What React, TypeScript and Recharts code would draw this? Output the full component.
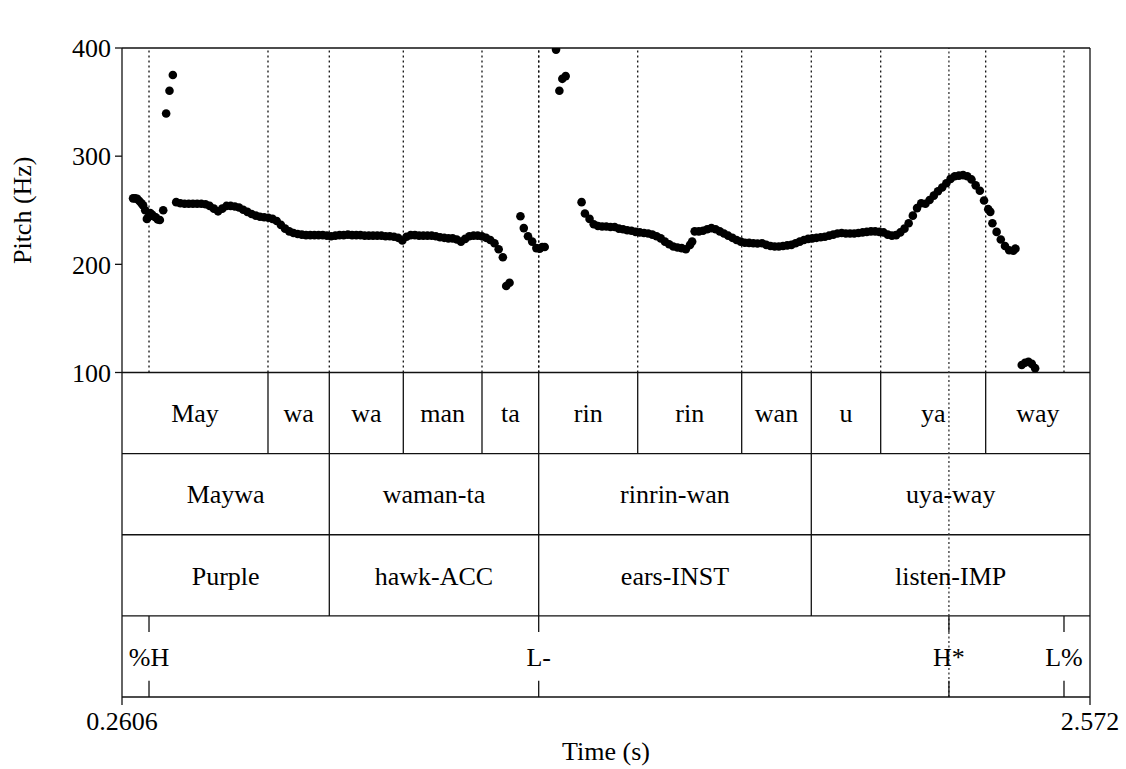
import {
  ReferenceArea,
  ReferenceDot,
  ReferenceLine,
  Scatter,
  ScatterChart,
  XAxis,
  YAxis,
} from 'recharts';

const SERIF = 'Liberation Serif, Times New Roman, Times, DejaVu Serif, serif';
const INK = '#111';

const timeRange: [number, number] = [0.2606, 2.572];
const cursorTime = 2.2351254;
const pitchTicks = [100, 200, 300, 400];

// F0 track, one list per voiced stretch: [time (s), pitch (Hz)]
const runOnset: [number, number][] = [
  [0.287, 261], [0.292, 261], [0.297, 260.5], [0.302, 258.5], [0.307, 256.5],
  [0.311, 254.5], [0.316, 250], [0.320, 242], [0.324, 244], [0.328, 247.5],
  [0.332, 246], [0.336, 244.5], [0.341, 243.5], [0.346, 241.5], [0.351, 241],
  [0.359, 250],
];
const runOctaveA: [number, number][] = [[0.366, 339.5], [0.374, 360.5], [0.382, 375]];
const runMaywaman: [number, number][] = [
  [0.39, 257.5], [0.40, 256.5], [0.41, 256], [0.42, 256], [0.43, 256], [0.44, 256],
  [0.45, 256], [0.46, 255.5], [0.47, 254], [0.48, 251.5], [0.49, 249], [0.50, 251.5],
  [0.51, 254], [0.52, 254], [0.53, 253.5], [0.54, 252.5], [0.55, 250.5], [0.56, 248.5],
  [0.57, 246.5], [0.58, 245], [0.59, 244], [0.60, 243.5], [0.61, 243], [0.62, 242],
  [0.63, 240], [0.64, 236.5], [0.65, 233], [0.66, 230.5], [0.67, 229], [0.68, 228],
  [0.69, 227.5], [0.70, 227], [0.71, 227], [0.72, 227], [0.73, 227], [0.74, 227],
  [0.75, 226.5], [0.76, 226], [0.77, 226.5], [0.78, 227], [0.79, 227], [0.80, 227.5],
  [0.81, 227], [0.82, 227], [0.83, 227], [0.84, 226.5], [0.85, 226.5], [0.86, 226.5],
  [0.87, 226.5], [0.88, 226.5], [0.89, 226], [0.90, 226], [0.91, 225.5], [0.92, 224.5],
  [0.93, 222], [0.94, 225.5], [0.95, 227], [0.96, 227], [0.97, 226.5], [0.98, 226.5],
  [0.99, 226.5], [1.00, 226.5], [1.01, 226], [1.02, 225], [1.03, 224.5], [1.04, 224],
  [1.05, 224], [1.06, 223], [1.07, 221], [1.08, 223.5], [1.09, 226], [1.10, 226.5],
  [1.11, 226.5], [1.12, 226], [1.13, 224.5], [1.14, 222.5], [1.15, 219.5], [1.16, 214],
  [1.17, 206.5],
];
const runTaDip: [number, number][] = [[1.178, 180], [1.186, 183]];
const runTaEnd: [number, number][] = [
  [1.212, 244.5], [1.220, 233.5], [1.230, 226], [1.240, 221], [1.250, 215],
  [1.258, 214.5], [1.264, 216], [1.270, 216],
];
const runOctaveB: [number, number][] = [[1.297, 398.5], [1.305, 360.5], [1.312, 371.5], [1.320, 374]];
const runRin: [number, number][] = [
  [1.358, 257.5], [1.366, 247], [1.377, 242], [1.387, 237], [1.397, 235.5], [1.407, 235],
  [1.417, 235], [1.427, 234.5], [1.437, 234.5], [1.447, 233], [1.457, 232.5], [1.467, 231.5],
  [1.477, 231], [1.487, 230], [1.497, 229.5], [1.507, 229], [1.517, 228.5], [1.527, 227.5],
  [1.537, 226], [1.547, 224], [1.557, 221], [1.567, 218.5], [1.577, 216.5], [1.587, 215.5],
  [1.597, 215], [1.607, 214], [1.617, 218], [1.622, 221],
];
const runRinwanUya: [number, number][] = [
  [1.628, 230.5], [1.638, 230.5], [1.648, 231], [1.658, 232.5], [1.668, 233.5], [1.678, 232.5],
  [1.688, 230.5], [1.698, 228.5], [1.708, 226.5], [1.718, 224.5], [1.728, 222.5], [1.738, 221],
  [1.748, 220], [1.758, 219.8], [1.768, 219.5], [1.778, 219.3], [1.789, 219.5], [1.799, 218],
  [1.809, 217], [1.819, 216.5], [1.829, 216.5], [1.839, 217], [1.849, 217.5], [1.859, 218],
  [1.869, 219.5], [1.879, 221], [1.889, 222.5], [1.899, 223.5], [1.909, 224], [1.919, 224.5],
  [1.929, 225], [1.939, 225.5], [1.949, 226.5], [1.959, 227.5], [1.969, 228.5], [1.979, 229],
  [1.989, 228.5], [1.999, 228.5], [2.009, 228.5], [2.019, 229], [2.029, 229.5], [2.039, 230],
  [2.049, 230.5], [2.059, 230.5], [2.069, 230], [2.079, 229.5], [2.089, 227.5], [2.099, 226.5],
  [2.109, 227], [2.119, 229.5], [2.129, 233], [2.139, 238], [2.149, 245], [2.159, 252],
  [2.169, 256.5], [2.179, 256], [2.189, 259.5], [2.199, 263.5], [2.209, 267.5], [2.219, 271],
  [2.229, 275], [2.239, 279], [2.249, 281.5], [2.259, 282], [2.269, 282.5], [2.279, 281.5],
  [2.289, 278.5], [2.299, 273], [2.309, 268], [2.319, 259], [2.329, 251], [2.334, 248.5],
  [2.339, 238], [2.349, 230], [2.359, 223], [2.369, 217], [2.379, 213], [2.389, 212.5],
  [2.394, 214.5],
];
const runCreak: [number, number][] = [[2.409, 107], [2.417, 109], [2.425, 110], [2.433, 108], [2.441, 104]];

const pitchRuns = [
  runOnset, runOctaveA, runMaywaman, runTaDip, runTaEnd,
  runOctaveB, runRin, runRinwanUya, runCreak,
];

// TextGrid tiers
const syllables = [
  { label: 'May', from: 0.2606, to: 0.6092 },
  { label: 'wa', from: 0.6092, to: 0.7556 },
  { label: 'wa', from: 0.7556, to: 0.9323 },
  { label: 'man', from: 0.9323, to: 1.1202 },
  { label: 'ta', from: 1.1202, to: 1.2556 },
  { label: 'rin', from: 1.2556, to: 1.492 },
  { label: 'rin', from: 1.492, to: 1.7403 },
  { label: 'wan', from: 1.7403, to: 1.9065 },
  { label: 'u', from: 1.9065, to: 2.0722 },
  { label: 'ya', from: 2.0722, to: 2.3229 },
  { label: 'way', from: 2.3229, to: 2.572 },
];
const words = [
  { label: 'Maywa', from: 0.2606, to: 0.7556 },
  { label: 'waman-ta', from: 0.7556, to: 1.2556 },
  { label: 'rinrin-wan', from: 1.2556, to: 1.9065 },
  { label: 'uya-way', from: 1.9065, to: 2.572 },
];
const glosses = [
  { label: 'Purple', from: 0.2606, to: 0.7556 },
  { label: 'hawk-ACC', from: 0.7556, to: 1.2556 },
  { label: 'ears-INST', from: 1.2556, to: 1.9065 },
  { label: 'listen-IMP', from: 1.9065, to: 2.572 },
];
const tones = [
  { label: '%H', at: 0.3251 },
  { label: 'L-', at: 1.2556 },
  { label: 'H*', at: cursorTime },
  { label: 'L%', at: 2.5099 },
];

// tiers live below the pitch range on the same y scale, 75 units per row
const intervalTiers = [
  { rows: syllables, top: 100, bottom: 25 },
  { rows: words, top: 25, bottom: -50 },
  { rows: glosses, top: -50, bottom: -125 },
];
const pointTier = { top: -125, bottom: -200, tick: 15 };

const textStyle = { fill: '#000', fontSize: 26, fontFamily: SERIF };

function PitchLabel(props: any) {
  const { x, y } = props.viewBox;
  const cx = x - 100;
  return (
    <text x={cx} y={y} transform={`rotate(-90 ${cx} ${y})`} textAnchor="middle"
      dominantBaseline="central" {...textStyle}>
      Pitch (Hz)
    </text>
  );
}

function TimeLabel(props: any) {
  const { x, y } = props.viewBox;
  return (
    <text x={x} y={y + 63} textAnchor="middle" {...textStyle}>
      Time (s)
    </text>
  );
}

export default function App() {
  const data = pitchRuns.flat().map(([t, hz]) => ({ t, hz }));
  const dotted = [
    ...syllables.slice(1).map((s) => s.from),
    ...tones.filter((p) => p.at !== cursorTime).map((p) => p.at),
  ];
  const solid = { stroke: INK, strokeWidth: 1.3, ifOverflow: 'visible' as const };

  return (
    <div style={{ position: 'absolute', left: 0, top: 0, width: 1126, height: 769, background: '#fff', fontFamily: SERIF }}>
      <ScatterChart width={1126} height={769} margin={{ top: 18, right: 36, bottom: 30, left: 62 }}>
        <XAxis xAxisId="top" orientation="top" type="number" domain={timeRange} allowDataOverflow
          ticks={[cursorTime]} interval={0} height={30} tickSize={7} tickMargin={9}
          tickFormatter={(v: number) => String(v)}
          axisLine={{ stroke: INK, strokeWidth: 1.3 }} tickLine={{ stroke: INK, strokeWidth: 1.3 }}
          tick={textStyle} />
        <XAxis type="number" dataKey="t" domain={timeRange} allowDataOverflow
          ticks={timeRange} interval={0} height={42} tickSize={8} tickMargin={7}
          tickFormatter={(v: number) => String(v)}
          axisLine={{ stroke: INK, strokeWidth: 1.3 }} tickLine={{ stroke: INK, strokeWidth: 1.3 }}
          tick={textStyle} />
        <YAxis type="number" dataKey="hz" domain={[-200, 400]} allowDataOverflow
          ticks={pitchTicks} interval={0} width={60} tickSize={7} tickMargin={4}
          axisLine={{ stroke: INK, strokeWidth: 1.3 }} tickLine={{ stroke: INK, strokeWidth: 1.3 }}
          tick={textStyle} />

        {/* frame: right edge and tier separators */}
        <ReferenceLine x={timeRange[1]} {...solid} />
        {[100, 25, -50, -125].map((y) => (
          <ReferenceLine key={`h${y}`} y={y} {...solid} />
        ))}

        {/* boundaries carried up into the pitch panel */}
        {dotted.map((t, i) => (
          <ReferenceLine key={`d${i}`} segment={[{ x: t, y: 100 }, { x: t, y: 400 }]}
            stroke="#111" strokeWidth={1.3} strokeDasharray="2 3" ifOverflow="visible" />
        ))}
        <ReferenceLine x={cursorTime} stroke="#333" strokeWidth={1.3} strokeDasharray="2 2.5" ifOverflow="visible" />

        {/* interval tiers */}
        {intervalTiers.map((tier, ti) =>
          tier.rows.map((r, i) => (
            <ReferenceArea key={`a${ti}-${i}`} x1={r.from} x2={r.to} y1={tier.bottom} y2={tier.top}
              fill="none" stroke="none" ifOverflow="visible"
              label={{ value: r.label, position: 'center', ...textStyle }} />
          ))
        )}
        {intervalTiers.map((tier, ti) =>
          tier.rows.slice(1).map((r, i) => (
            <ReferenceLine key={`b${ti}-${i}`}
              segment={[{ x: r.from, y: tier.bottom }, { x: r.from, y: tier.top }]} {...solid} />
          ))
        )}

        {/* point tier: short ticks top and bottom, label in the middle */}
        {tones.map((p, i) => (
          <ReferenceLine key={`pt${i}`}
            segment={[{ x: p.at, y: pointTier.top }, { x: p.at, y: pointTier.top - pointTier.tick }]} {...solid} />
        ))}
        {tones.map((p, i) => (
          <ReferenceLine key={`pb${i}`}
            segment={[{ x: p.at, y: pointTier.bottom + pointTier.tick }, { x: p.at, y: pointTier.bottom }]} {...solid} />
        ))}
        {tones.map((p, i) => (
          <ReferenceDot key={`pl${i}`} x={p.at} y={(pointTier.top + pointTier.bottom) / 2} r={0}
            fill="none" stroke="none" ifOverflow="visible"
            label={{ value: p.label, position: 'center', ...textStyle }} />
        ))}

        {/* axis titles */}
        <ReferenceDot x={timeRange[0]} y={250} r={0} fill="none" stroke="none" ifOverflow="visible"
          label={{ content: PitchLabel }} />
        <ReferenceDot x={(timeRange[0] + timeRange[1]) / 2} y={-200} r={0} fill="none" stroke="none"
          ifOverflow="visible" label={{ content: TimeLabel }} />

        <Scatter data={data} isAnimationActive={false}
          shape={(p: any) => <circle cx={p.cx} cy={p.cy} r={4.3} fill="#000" />} />
      </ScatterChart>
    </div>
  );
}
